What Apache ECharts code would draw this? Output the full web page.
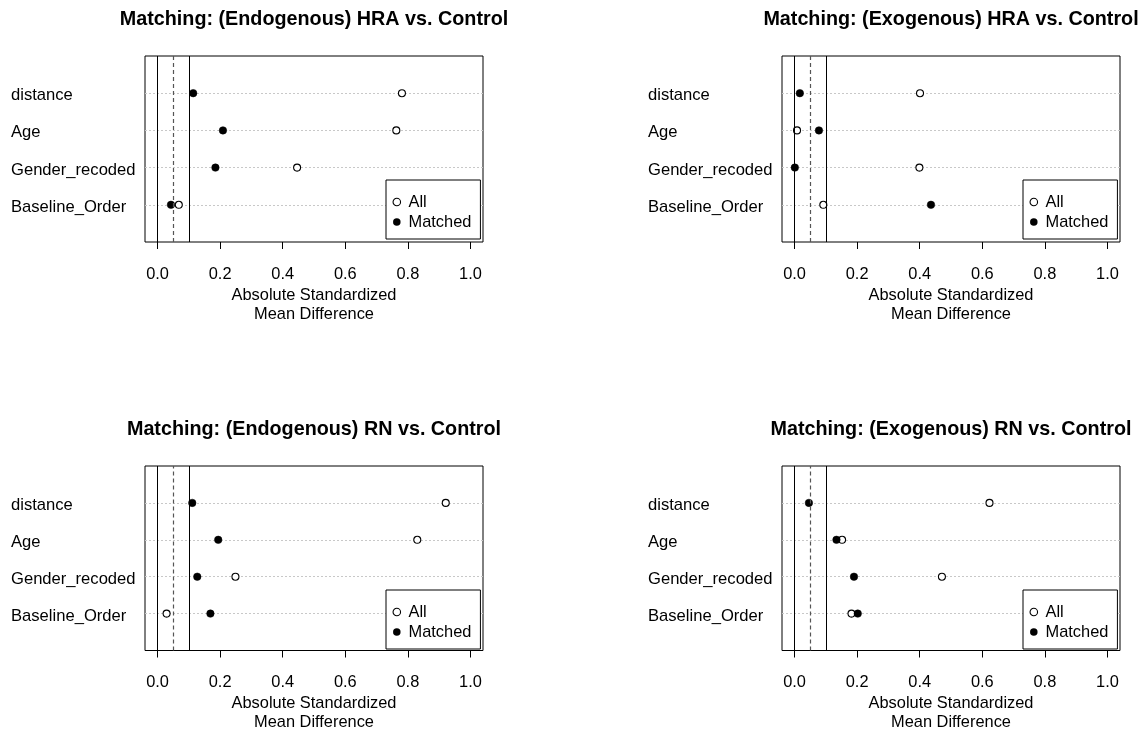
<!DOCTYPE html>
<html><head><meta charset="utf-8">
<script src="https://cdn.jsdelivr.net/npm/echarts@6/dist/echarts.min.js"></script>
<style>html,body{margin:0;padding:0;background:#fff}#c{width:1145px;height:733px}</style>
</head><body><div id="c"></div>
<script>
// ---- data ----
const categories = ['distance', 'Age', 'Gender_recoded', 'Baseline_Order'];
const titles = [
  'Matching: (Endogenous) HRA vs. Control',
  'Matching: (Exogenous) HRA vs. Control',
  'Matching: (Endogenous) RN vs. Control',
  'Matching: (Exogenous) RN vs. Control'
];
const hraEndoAll     = [0.781, 0.763, 0.446, 0.068];
const hraEndoMatched = [0.114, 0.209, 0.185, 0.043];
const hraExoAll      = [0.401, 0.008, 0.399, 0.092];
const hraExoMatched  = [0.017, 0.078, 0.001, 0.436];
const rnEndoAll      = [0.921, 0.830, 0.249, 0.029];
const rnEndoMatched  = [0.111, 0.194, 0.127, 0.169];
const rnExoAll       = [0.623, 0.152, 0.471, 0.182];
const rnExoMatched   = [0.046, 0.134, 0.190, 0.202];
const xTicks = [0, 0.2, 0.4, 0.6, 0.8, 1.0];
const refLines = [0, 0.05, 0.1];
const axisTitle = 'Absolute Standardized\nMean Difference';

const panels = [
  {title: titles[0], all: hraEndoAll, matched: hraEndoMatched},
  {title: titles[1], all: hraExoAll, matched: hraExoMatched},
  {title: titles[2], all: rnEndoAll, matched: rnEndoMatched},
  {title: titles[3], all: rnExoAll, matched: rnExoMatched}
];

// ---- layout ----
const FONT = 'Liberation Sans, Arial, sans-serif';
const FS = 16.4;
const GW = 338, GH = 186;
const layout = [
  {left: 145, top: 56},
  {left: 782, top: 56},
  {left: 145, top: 466},
  {left: 782, top: 466}
];
const yCats = [''].concat(categories.slice().reverse(), ['']);

const grids = [], xAxes = [], yAxes = [], series = [], legends = [], graphics = [];
panels.forEach((p, k) => {
  const L = layout[k];
  grids.push({left: L.left, top: L.top, width: GW, height: GH, show: true,
    borderColor: '#000', borderWidth: 1, backgroundColor: 'rgba(0,0,0,0)'});
  xAxes.push({gridIndex: k, type: 'value', min: -0.04, max: 1.04,
    axisLine: {show: false},
    axisTick: {show: true, inside: false, length: 7, customValues: xTicks, lineStyle: {color: '#000', width: 1}},
    axisLabel: {show: true, customValues: xTicks, formatter: v => v.toFixed(1), margin: 24,
      fontSize: FS, color: '#000', fontFamily: FONT},
    splitLine: {show: false},
    name: axisTitle, nameLocation: 'middle', nameGap: 43.5,
    nameTextStyle: {fontSize: FS, lineHeight: 19, color: '#000', fontFamily: FONT}
  });
  yAxes.push({gridIndex: k, type: 'category', data: yCats, boundaryGap: false,
    axisLine: {show: false}, axisTick: {show: false},
    axisLabel: {interval: 0, align: 'left', margin: L.left - (k % 2 === 0 ? 11 : 648),
      formatter: v => (v ? '{c|' + v + '}' : ''),
      rich: {c: {fontSize: 16.6, color: '#000', fontFamily: FONT, padding: [5, 0, 0, 0]}}},
    splitLine: {show: true, interval: (i) => i > 0 && i < yCats.length - 1,
      lineStyle: {color: '#c8c8c8', width: 1, type: [2, 2]}}
  });
  series.push({
    type: 'scatter', name: 'All', xAxisIndex: k, yAxisIndex: k,
    symbol: 'circle', symbolSize: 7,
    itemStyle: {color: '#fff', borderColor: '#000', borderWidth: 1.1, opacity: 1},
    data: p.all.map((v, i) => [v, categories[i]]),
    z: 3,
    markLine: {
      silent: true, symbol: ['none', 'none'], label: {show: false}, animation: false,
      data: refLines.map((x, j) => ({xAxis: x,
        lineStyle: j === 1 ? {color: '#555', type: [4, 3], width: 1.2} : {color: '#000', type: 'solid', width: 1}}))
    }
  });
  series.push({
    type: 'scatter', name: 'Matched', xAxisIndex: k, yAxisIndex: k,
    symbol: 'circle', symbolSize: 7.5,
    itemStyle: {color: '#000', borderColor: '#000', borderWidth: 0.5, opacity: 1},
    data: p.matched.map((v, i) => [v, categories[i]]),
    z: 4
  });
  legends.push({
    orient: 'vertical', left: L.left + 241, top: L.top + 124,
    data: [
      {name: 'All', icon: 'circle', itemStyle: {color: '#fff', borderColor: '#000', borderWidth: 1.1, opacity: 1}},
      {name: 'Matched', icon: 'circle', itemStyle: {color: '#000', borderWidth: 0, opacity: 1}}
    ],
    itemWidth: 7.5, itemHeight: 7.5, itemGap: 4, selectedMode: false,
    padding: [14, 9, 9, 6.5],
    borderColor: '#000', borderWidth: 1, backgroundColor: '#fff', borderRadius: 0,
    textStyle: {fontSize: FS, lineHeight: 16, color: '#000', fontFamily: FONT, padding: [0, 0, 0, 3]}
  });
  graphics.push({type: 'text', x: L.left + GW / 2, y: L.top - 36,
    style: {text: p.title, font: 'bold 19.75px ' + FONT, fill: '#000', textAlign: 'center', textVerticalAlign: 'middle'}});
});

const chart = echarts.init(document.getElementById('c'), null, {renderer: 'canvas'});
chart.setOption({
  animation: false,
  backgroundColor: '#fff',
  grid: grids, xAxis: xAxes, yAxis: yAxes, series: series, legend: legends,
  graphic: graphics
});
</script></body></html>
